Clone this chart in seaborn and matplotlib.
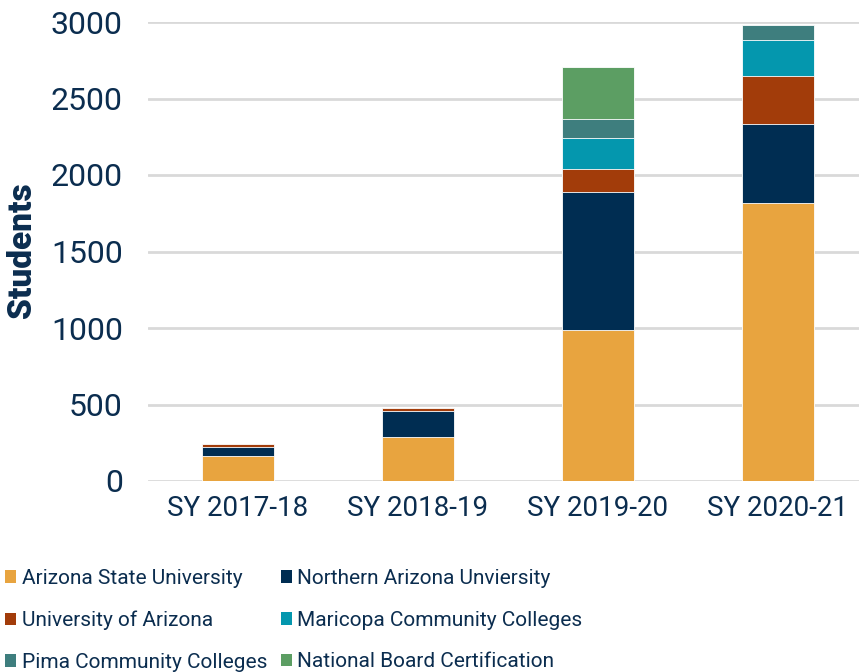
import matplotlib
matplotlib.use("Agg")
import matplotlib.pyplot as plt
import seaborn as sns
import numpy as np
from matplotlib.patches import Patch

categories = ["SY 2017-18", "SY 2018-19", "SY 2019-20", "SY 2020-21"]
series_names = ["Arizona State University", "Northern Arizona Unviersity",
                "University of Arizona", "Maricopa Community Colleges",
                "Pima Community Colleges", "National Board Certification"]
asu = [165, 290, 990, 1815]
nau = [55, 165, 900, 520]
ua = [20, 25, 150, 310]
mcc = [0, 0, 200, 235]
pima = [0, 0, 125, 100]
nbc = [0, 0, 340, 0]
colors = ["#E8A43F", "#002D52", "#A23C0A", "#0497AE", "#3E7E7E", "#5C9E63"]
yticks = [0, 500, 1000, 1500, 2000, 2500, 3000]

navy = "#0B2D4F"
sns.set_style("white")
plt.rcParams["font.family"] = ["Roboto", "DejaVu Sans"]

fig = plt.figure(figsize=(8.59, 6.72), dpi=100)
ax = fig.add_axes([148/859, 1 - 481/672, 1 - 148/859, (481 - 22)/672])

series = [asu, nau, ua, mcc, pima, nbc]
cum = np.cumsum(np.array(series), axis=0)
for i in range(len(series) - 1, -1, -1):
    sns.barplot(x=categories, y=cum[i], color=colors[i], width=0.4, ax=ax,
                saturation=1, edgecolor="white", linewidth=0.6, zorder=3)

ax.set_ylim(0, 3000)
ax.set_xlim(-0.5, 3.45)
ax.set_yticks(yticks)
ax.set_yticklabels([str(v) for v in yticks])
ax.yaxis.grid(True, color="#D9D9D9", linewidth=2, zorder=0)
ax.set_axisbelow(True)
for s in ax.spines.values():
    s.set_visible(False)
ax.tick_params(axis="y", length=0, pad=18, labelsize=23, labelcolor=navy)
ax.tick_params(axis="x", length=0, pad=10, labelsize=20, labelcolor=navy)
ax.set_ylabel("")
ax.set_xlabel("")
fig.text(22/859, 1 - 250/672, "Students", rotation=90, ha="center", va="center",
         fontsize=24, fontweight="black", color=navy)

handles = [Patch(facecolor=c, edgecolor="none") for c in colors]
order = [0, 2, 4, 1, 3, 5]
leg = fig.legend([handles[i] for i in order], [series_names[i] for i in order],
                 loc="upper left", bbox_to_anchor=(5/859, 1 - 569/672), ncol=2,
                 frameon=False, handlelength=0.55, handleheight=0.55,
                 handletextpad=0.25, columnspacing=0.65, labelspacing=1.09,
                 borderaxespad=0, borderpad=0,
                 prop={"family": ["Roboto", "DejaVu Sans"], "size": 15})
for t in leg.get_texts():
    t.set_color(navy)

fig.savefig("out.png", dpi=100)
